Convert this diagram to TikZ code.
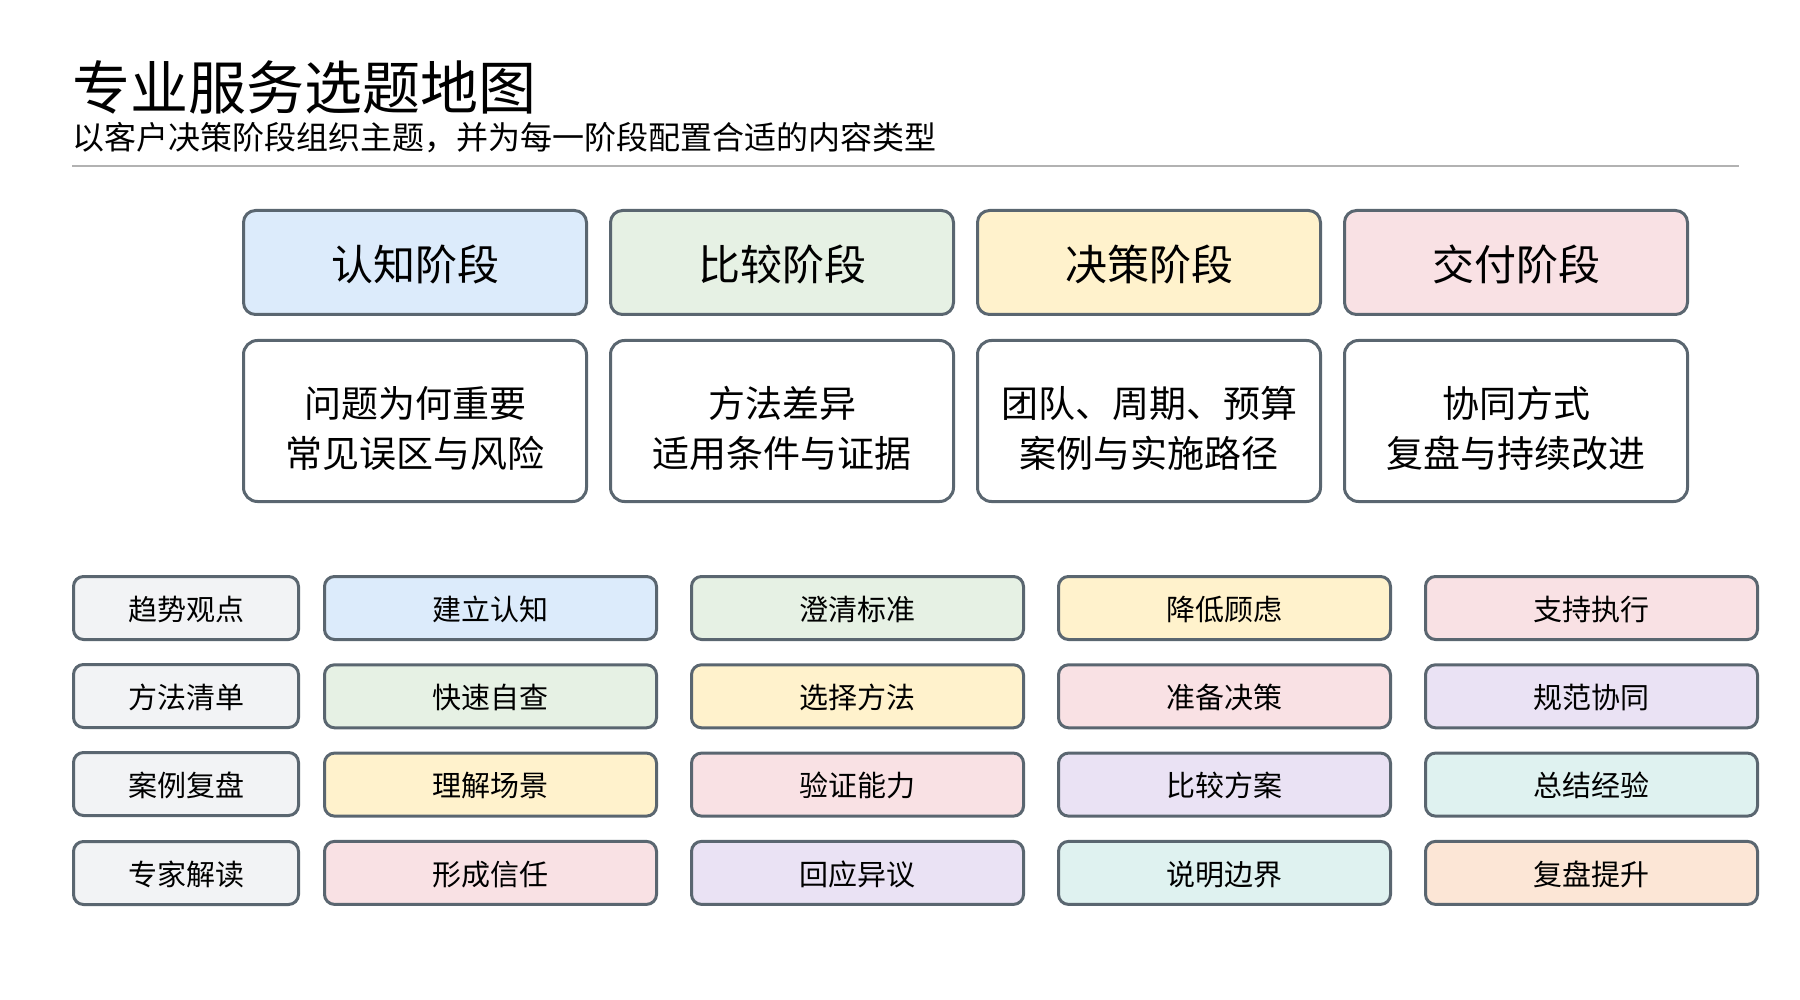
\documentclass[tikz,border=0pt]{standalone}
\usepackage{fontspec}
\setmainfont{Noto Sans CJK SC}
\begin{document}
\definecolor{bd}{HTML}{5A6670}
\definecolor{cb}{HTML}{DCEBFB}
\definecolor{cg}{HTML}{E6F1E4}
\definecolor{cy}{HTML}{FFF2CC}
\definecolor{cp}{HTML}{F9E1E4}
\definecolor{cu}{HTML}{EAE2F4}
\definecolor{ct}{HTML}{DFF2F0}
\definecolor{co}{HTML}{FCE6D6}
\definecolor{cq}{HTML}{F2F3F5}
\begin{tikzpicture}[x=1pt,y=-1pt,
 stage/.style={draw=bd,line width=3pt,rounded corners=12pt,minimum width=343pt,minimum height=104pt,font=\fontsize{42}{50}\selectfont,text depth=-30pt,anchor=north west},
 cont/.style={draw=bd,line width=3pt,rounded corners=14pt,fill=white,minimum width=343pt,minimum height=161pt,font=\fontsize{37}{50}\selectfont,align=center,anchor=north west,text depth=0pt,inner sep=0pt},
 sm/.style={draw=bd,line width=3pt,rounded corners=10pt,minimum height=63pt,font=\fontsize{29}{32}\selectfont,text depth=-18pt,anchor=north west}]
\useasboundingbox (0,0) rectangle (1800,1000);
\node[anchor=base west,font=\fontsize{58}{64}\selectfont,inner sep=0] (t) at (72,110) {专业服务选题地图};
\node[anchor=base west,font=\fontsize{32}{34}\selectfont,inner sep=0] (s) at (72,150) {以客户决策阶段组织主题，并为每一阶段配置合适的内容类型};
\draw[color=gray!60,line width=2.5pt] (72,166) -- (1739,166);
\foreach \x/\c/\a/\n in {242/cb/认知阶段/1,609/cg/比较阶段/2,976/cy/决策阶段/3,1343/cp/交付阶段/4}
 \node[stage,fill=\c] (st\n) at (\x,209) {\a};
\node[cont] (ct1) at (242,339) {\\[-8pt]问题为何重要\\常见误区与风险};
\node[cont] (ct2) at (609,339) {\\[-8pt]方法差异\\适用条件与证据};
\node[cont] (ct3) at (976,339) {\\[-8pt]团队、周期、预算\\案例与实施路径};
\node[cont] (ct4) at (1343,339) {\\[-8pt]协同方式\\复盘与持续改进};
\foreach \y/\t/\r in {575/趋势观点/1,663/方法清单/2,751/案例复盘/3,840/专家解读/4}
 \node[sm,fill=cq,minimum width=225pt] (g1\r) at (72,\y) {\t};
\foreach \x/\k/\l in {323/2/{cb/建立认知,cg/快速自查,cy/理解场景,cp/形成信任},690/3/{cg/澄清标准,cy/选择方法,cp/验证能力,cu/回应异议},1057/4/{cy/降低顾虑,cp/准备决策,cu/比较方案,ct/说明边界},1424/5/{cp/支持执行,cu/规范协同,ct/总结经验,co/复盘提升}}{
 \foreach \c/\t [count=\i] in \l {
  \pgfmathsetmacro\yy{575+(\i-1)*88.3}
  \node[sm,fill=\c,minimum width=332pt] (g\k\i) at (\x,\yy) {\t};
 }
}
\end{tikzpicture}
\end{document}
